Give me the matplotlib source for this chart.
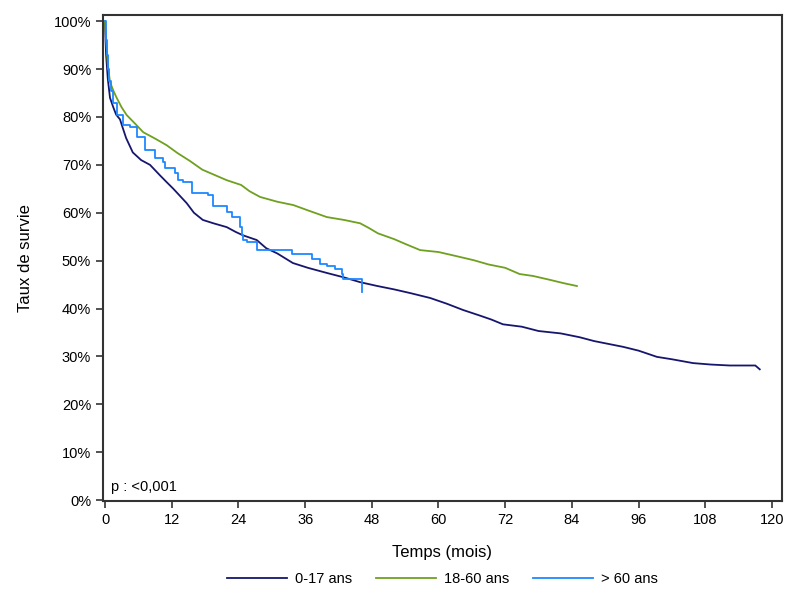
import matplotlib
matplotlib.use("Agg")
import matplotlib.pyplot as plt
from matplotlib.ticker import FuncFormatter

plt.rcParams["font.family"] = ["Liberation Sans", "DejaVu Sans"]
plt.rcParams["font.size"] = 10.5

# --- data (months, survival %) ---
t_0_17 = [0, 0.1, 0.2, 0.5, 0.9, 1.5, 2.0, 2.7, 3.2, 3.8, 5.0, 6.5, 8.1, 9.9,
          11.0, 12.3, 14.7, 16.0, 17.6, 19.5, 21.9, 23.5, 24.8, 27.3, 29.0,
          31.0, 33.8, 36.5, 40.0, 43.0, 45.9, 49.0, 52.0, 55.0, 58.5, 61.5,
          64.4, 67.5, 69.5, 71.6, 75.0, 78.0, 82.0, 85.4, 88.0, 93.2, 96.0,
          99.3, 102.0, 105.8, 109.0, 112.4, 117.0, 117.8]
s_0_17 = [100, 96, 93, 88, 84, 82, 80.5, 79.5, 77.7, 75.6, 72.6, 71, 70, 67.8,
          66.5, 65, 62, 60, 58.5, 57.8, 57, 56, 55.3, 54.3, 52.6,
          51.5, 49.5, 48.5, 47.4, 46.5, 45.5, 44.7, 44, 43.2, 42.2, 41,
          39.7, 38.5, 37.7, 36.7, 36.2, 35.3, 34.8, 34, 33.2, 32, 31.2,
          29.9, 29.4, 28.6, 28.3, 28.1, 28.1, 27.3]

t_18_60 = [0, 0.1, 0.2, 0.5, 0.9, 1.5, 2.1, 3.0, 3.9, 5.5, 6.9, 9.0, 11.1, 13.0,
           15.3, 17.5, 19.5, 21.9, 24.5, 26.0, 27.9, 31.0, 33.9, 36.5, 39.9,
           43.0, 45.9, 47.5, 49.1, 52.0, 54.0, 56.7, 60.0, 63.0, 66.3, 69.0,
           72.0, 74.6, 77.0, 80.0, 82.5, 84.9]
s_18_60 = [100, 98, 96, 91, 87.3, 85.5, 84, 82, 80.4, 78.5, 76.8, 75.5, 74.1,
           72.5, 70.8, 69, 68, 66.8, 65.8, 64.5, 63.3, 62.3, 61.6, 60.5, 59.1,
           58.5, 57.8, 56.8, 55.7, 54.5, 53.5, 52.2, 51.8, 51, 50.1, 49.2,
           48.5, 47.2, 46.8, 46, 45.3, 44.7]

t_60p = [0, 0.2, 0.4, 0.6, 0.8, 1.0, 1.5, 2.2, 3.3, 4.5, 5.7, 7.2, 9.0, 10.5,
         10.8, 12.6, 13.2, 14.1, 15.6, 18.6, 19.5, 21.9, 22.8, 24.3, 24.6,
         24.9, 25.5, 27.3, 33.6, 37.2, 38.7, 39.9, 41.4, 42.6, 42.9, 46.3]
s_60p = [100, 96, 93, 90, 87.5, 85.5, 83, 80.5, 78.3, 77.9, 75.8, 73.1, 71.4,
         70.6, 69.3, 68.3, 66.8, 66.5, 64.2, 63.7, 61.4, 60.2, 59.2, 57.1,
         55.3, 54.3, 53.8, 52.3, 51.3, 50.4, 49.4, 48.9, 48.2, 47.2, 46.1, 43.5]

groups = ["0-17 ans", "18-60 ans", "> 60 ans"]
colors = ["#16166e", "#6fa020", "#1e88ff"]
styles = ["default", "default", "steps-post"]
x_ticks = list(range(0, 121, 12))
y_ticks = [i / 10 for i in range(11)]

fig = plt.figure(figsize=(8, 6), dpi=100)
ax = fig.add_axes([0.12875, 0.165, 0.84875, 0.81])

series = [(t_0_17, s_0_17), (t_18_60, s_18_60), (t_60p, s_60p)]
for (t, s), lab, c, ds in zip(series, groups, colors, styles):
    ax.plot(t, [v / 100 for v in s], drawstyle=ds, color=c,
            linewidth=1.3, label=lab)

ax.set_xlim(-0.36, 121.8)
ax.set_ylim(-0.002, 1.013)
ax.set_xticks(x_ticks)
ax.set_yticks(y_ticks)
ax.yaxis.set_major_formatter(FuncFormatter(lambda v, p: f"{v*100:.0f}%"))
ax.tick_params(direction="out", length=5, width=1.2, color="#333333",
               labelsize=10.5)
for sp in ax.spines.values():
    sp.set_linewidth(1.5)
    sp.set_color("#333333")

ax.set_xlabel("Temps (mois)", fontsize=12, labelpad=13)
ax.set_ylabel("Taux de survie", fontsize=12, labelpad=15)
ax.text(0.012, 0.015, "p : <0,001", transform=ax.transAxes,
        ha="left", va="bottom", fontsize=10.5)

ax.legend(loc="upper center", bbox_to_anchor=(0.5, -0.12), ncol=3,
          frameon=False, handlelength=4.1, columnspacing=1.6,
          handletextpad=0.6, fontsize=10.5)

fig.savefig("out.png", dpi=100)
